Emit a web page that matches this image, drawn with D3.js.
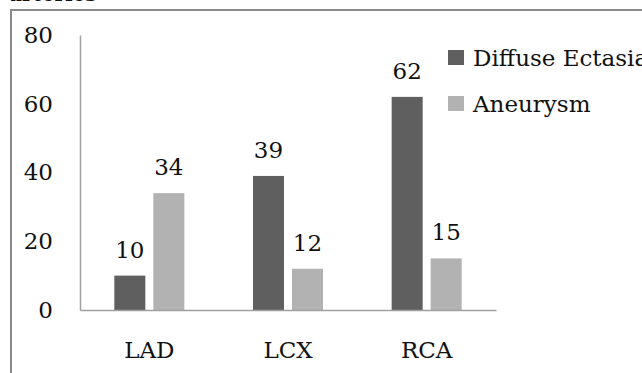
<!DOCTYPE html>
<html>
<head>
<meta charset="utf-8">
<script src="https://cdn.jsdelivr.net/npm/d3@7"></script>
<style>
  html, body { margin: 0; padding: 0; background: #fff; }
  svg { display: block; }
  text { font-family: "DejaVu Serif", "Liberation Serif", serif; fill: #111; }
</style>
</head>
<body>
<svg id="chart" width="642" height="373"></svg>
<script>
// Coronary artery involvement (counts)
const categories = ["LAD", "LCX", "RCA"];
const seriesNames = ["Diffuse Ectasia", "Aneurysm"];
const diffuseEctasia = [10, 39, 62];
const aneurysm = [34, 12, 15];
const yTicks = [0, 20, 40, 60, 80];
const seriesColors = ["#5f5f5f", "#b2b2b2"];

const seriesValues = [diffuseEctasia, aneurysm];
const rows = categories.map((c, i) => ({
  cat: c,
  vals: seriesNames.map((s, j) => ({ series: s, idx: j, value: seriesValues[j][i] }))
}));

const FONT_SIZE = "23px";
const svg = d3.select("#chart");

// Caption fragment above the frame
svg.append("text")
  .attr("x", 9).attr("y", 0.5)
  .style("font-size", "20px").style("font-weight", "bold")
  .text("arteries");

// Outer frame (runs past the right and bottom edges)
svg.append("rect")
  .attr("x", 11).attr("y", 10)
  .attr("width", 700).attr("height", 420)
  .attr("fill", "none").attr("stroke", "#8a8a8a").attr("stroke-width", 2);

const plot = { left: 80, right: 496, top: 35, bottom: 310 };

const x = d3.scaleBand()
  .domain(categories)
  .range([plot.left, plot.right])
  .paddingInner(0.495)
  .paddingOuter(0.2475);

const xInner = d3.scaleBand()
  .domain(d3.range(seriesNames.length))
  .range([0, x.bandwidth()])
  .paddingInner(8 / 39);

const y = d3.scaleLinear().domain([0, 80]).range([plot.bottom, plot.top]);

// Bars
const groups = svg.append("g").selectAll("g")
  .data(rows).join("g")
  .attr("transform", d => `translate(${x(d.cat)},0)`);

groups.selectAll("rect")
  .data(d => d.vals).join("rect")
  .attr("x", d => xInner(d.idx))
  .attr("width", xInner.bandwidth())
  .attr("y", d => y(d.value))
  .attr("height", d => y(0) - y(d.value))
  .attr("fill", d => seriesColors[d.idx]);

// Value labels
groups.selectAll("text.val")
  .data(d => d.vals).join("text")
  .attr("class", "val")
  .attr("x", d => xInner(d.idx) + xInner.bandwidth() / 2)
  .attr("y", d => y(d.value) - 18)
  .attr("text-anchor", "middle")
  .style("font-size", FONT_SIZE)
  .text(d => d.value);

// Y axis
const yAxis = svg.append("g")
  .attr("transform", `translate(${plot.left},0)`)
  .call(d3.axisLeft(y).tickValues(yTicks).tickSize(0).tickPadding(27));
yAxis.select(".domain").attr("stroke", "#a0a0a0").attr("stroke-width", 1.5);
yAxis.selectAll("text")
  .style("font-family", '"DejaVu Serif", serif')
  .style("font-size", FONT_SIZE).attr("fill", "#111");

// X axis
const xAxis = svg.append("g")
  .attr("transform", `translate(0,${plot.bottom})`)
  .call(d3.axisBottom(x).tickSize(0).tickPadding(32));
xAxis.select(".domain").attr("stroke", "#a0a0a0").attr("stroke-width", 1.5);
xAxis.selectAll("text")
  .style("font-family", '"DejaVu Serif", serif')
  .style("font-size", FONT_SIZE).attr("fill", "#111");

// Legend
const legend = svg.append("g").attr("transform", "translate(448,50)");
const items = legend.selectAll("g")
  .data(seriesNames).join("g")
  .attr("transform", (d, i) => `translate(0,${i * 46})`);
items.append("rect")
  .attr("width", 16).attr("height", 15)
  .attr("fill", (d, i) => seriesColors[i]);
items.append("text")
  .attr("x", 25).attr("y", 7.5)
  .attr("dy", "0.35em")
  .style("font-size", FONT_SIZE)
  .text(d => d);
</script>
</body>
</html>
